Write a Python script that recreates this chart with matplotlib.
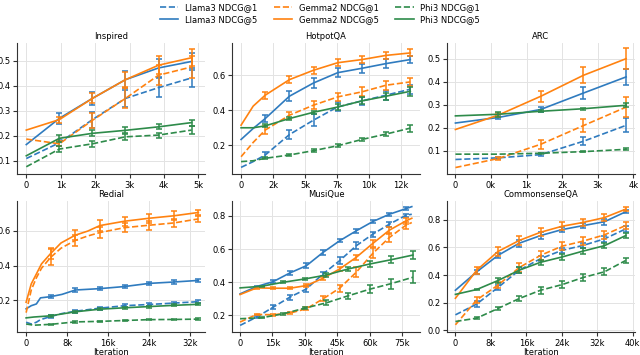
import matplotlib
matplotlib.use("Agg")
import matplotlib.pyplot as plt
import numpy as np

# ---------------- data ----------------
titles = ["Inspired", "HotpotQA", "ARC", "Redial", "MusiQue", "CommonsenseQA"]
series_names = ["Llama3 NDCG@1", "Llama3 NDCG@5", "Gemma2 NDCG@1",
                "Gemma2 NDCG@5", "Phi3 NDCG@1", "Phi3 NDCG@5"]

# Inspired
insp_x = [0, 960, 1920, 2880, 3840, 4800]
insp_l1 = [0.109, 0.172, 0.265, 0.350, 0.393, 0.432]
insp_l1_err = [0, 0.012, 0.032, 0.035, 0.037, 0.038]
insp_l5 = [0.165, 0.270, 0.350, 0.425, 0.472, 0.498]
insp_l5_err = [0, 0.022, 0.025, 0.035, 0.037, 0.035]
insp_g1 = [0.187, 0.168, 0.262, 0.350, 0.443, 0.476]
insp_g1_err = [0, 0.010, 0.030, 0.040, 0.040, 0.045]
insp_g5 = [0.223, 0.265, 0.350, 0.425, 0.483, 0.513]
insp_g5_err = [0, 0.012, 0.020, 0.030, 0.035, 0.035]
insp_p1 = [0.076, 0.147, 0.168, 0.196, 0.203, 0.223]
insp_p1_err = [0, 0.012, 0.012, 0.012, 0.010, 0.015]
insp_p5 = [0.120, 0.190, 0.210, 0.222, 0.236, 0.253]
insp_p5_err = [0, 0.015, 0.012, 0.012, 0.010, 0.012]

# HotpotQA
hot_x = [0, 945, 1890, 3780, 5670, 7560, 9450, 11340, 13230]
hot_l1 = [0.072, 0.105, 0.143, 0.260, 0.343, 0.419, 0.453, 0.486, 0.520]
hot_l1_err = [0, 0, 0.015, 0.025, 0.035, 0.025, 0.025, 0.025, 0.025]
hot_l5 = [0.232, 0.295, 0.352, 0.480, 0.556, 0.615, 0.640, 0.667, 0.690]
hot_l5_err = [0, 0, 0.020, 0.030, 0.030, 0.025, 0.025, 0.025, 0.020]
hot_g1 = [0.133, 0.215, 0.286, 0.371, 0.429, 0.476, 0.505, 0.543, 0.562]
hot_g1_err = [0, 0, 0.025, 0.020, 0.025, 0.025, 0.025, 0.025, 0.025]
hot_g5 = [0.314, 0.423, 0.486, 0.575, 0.629, 0.672, 0.690, 0.714, 0.728]
hot_g5_err = [0, 0, 0.020, 0.020, 0.020, 0.020, 0.020, 0.020, 0.020]
hot_p1 = [0.105, 0.110, 0.124, 0.143, 0.168, 0.196, 0.232, 0.263, 0.297]
hot_p1_err = [0, 0, 0.005, 0.005, 0.007, 0.008, 0.010, 0.012, 0.020]
hot_p5 = [0.299, 0.299, 0.310, 0.352, 0.388, 0.418, 0.453, 0.480, 0.508]
hot_p5_err = [0, 0, 0.008, 0.008, 0.010, 0.015, 0.020, 0.020, 0.025]

# ARC
arc_x = [0, 960, 1920, 2880, 3840]
arc_l1 = [0.063, 0.070, 0.084, 0.142, 0.211]
arc_l1_err = [0, 0.005, 0.005, 0.018, 0.030]
arc_l5 = [0.221, 0.245, 0.280, 0.351, 0.421]
arc_l5_err = [0, 0.005, 0.010, 0.025, 0.035]
arc_g1 = [0.028, 0.067, 0.129, 0.210, 0.290]
arc_g1_err = [0, 0.008, 0.020, 0.030, 0.045]
arc_g5 = [0.193, 0.255, 0.337, 0.428, 0.500]
arc_g5_err = [0, 0.010, 0.025, 0.035, 0.045]
arc_p1 = [0.086, 0.086, 0.090, 0.097, 0.107]
arc_p1_err = [0, 0, 0.003, 0.003, 0.004]
arc_p5 = [0.252, 0.259, 0.272, 0.283, 0.298]
arc_p5_err = [0, 0.010, 0.005, 0.005, 0.008]

# Redial
red_xg = [0, 1000, 2000, 3000, 4800, 6800, 9600, 12000, 14400, 19200, 24000, 28800, 33600]
red_g1 = [0.130, 0.260, 0.330, 0.385, 0.448, 0.500, 0.545, 0.570, 0.590, 0.618, 0.632, 0.645, 0.668]
red_g1_err = [0, 0, 0, 0, 0.045, 0, 0.030, 0, 0.030, 0.025, 0.025, 0.025, 0.015]
red_g5 = [0.190, 0.295, 0.352, 0.410, 0.470, 0.530, 0.575, 0.598, 0.630, 0.655, 0.672, 0.686, 0.705]
red_g5_err = [0, 0, 0, 0, 0.030, 0, 0.030, 0, 0.030, 0.025, 0.025, 0.025, 0.015]
red_xl = [0, 1000, 2000, 2800, 4800, 7000, 9600, 14400, 19200, 24000, 28800, 33600]
red_l1 = [0.075, 0.065, 0.075, 0.090, 0.108, 0.125, 0.138, 0.156, 0.170, 0.177, 0.185, 0.193]
red_l1_err = [0, 0, 0, 0, 0.008, 0, 0.008, 0.008, 0.008, 0.008, 0.008, 0.008]
red_l5 = [0.152, 0.170, 0.180, 0.215, 0.222, 0.235, 0.260, 0.268, 0.280, 0.298, 0.306, 0.315]
red_l5_err = [0, 0, 0, 0, 0.008, 0, 0.012, 0.010, 0.010, 0.010, 0.010, 0.010]
red_xp = [0, 1500, 4800, 9600, 14400, 19200, 24000, 28800, 33600]
red_p1 = [0.065, 0.058, 0.063, 0.077, 0.080, 0.085, 0.090, 0.091, 0.093]
red_p1_err = [0, 0, 0.004, 0.004, 0.004, 0.004, 0.004, 0.004, 0.004]
red_p5 = [0.100, 0.105, 0.112, 0.135, 0.150, 0.158, 0.165, 0.172, 0.178]
red_p5_err = [0, 0, 0.006, 0.006, 0.006, 0.006, 0.006, 0.006, 0.006]

# MusiQue
mus_x = [0, 7680, 15360, 23040, 30720, 38400, 46080, 53760, 61440, 69120, 76800, 79500]
mus_l1 = [0.140, 0.190, 0.250, 0.310, 0.360, 0.450, 0.530, 0.620, 0.690, 0.750, 0.804, 0.810]
mus_l1_err = [0, 0.005, 0.010, 0.015, 0.020, 0.010, 0.020, 0.020, 0.015, 0.015, 0.010, 0]
mus_l5 = [0.330, 0.374, 0.404, 0.456, 0.500, 0.580, 0.650, 0.710, 0.766, 0.810, 0.844, 0.856]
mus_l5_err = [0, 0.005, 0.008, 0.012, 0.015, 0.015, 0.010, 0.010, 0.010, 0.008, 0.008, 0]
mus_g1 = [0.160, 0.206, 0.204, 0.214, 0.240, 0.300, 0.364, 0.460, 0.574, 0.670, 0.744, 0.760]
mus_g1_err = [0, 0.005, 0.005, 0.005, 0.010, 0.015, 0.020, 0.030, 0.030, 0.030, 0.020, 0]
mus_g5 = [0.326, 0.366, 0.364, 0.364, 0.380, 0.424, 0.480, 0.550, 0.634, 0.714, 0.770, 0.786]
mus_g5_err = [0, 0.005, 0.005, 0.005, 0.010, 0.010, 0.012, 0.015, 0.020, 0.020, 0.020, 0]
mus_xp = [0, 10000, 20000, 30000, 40000, 50000, 60000, 70000, 80000]
mus_p1 = [0.180, 0.186, 0.210, 0.244, 0.276, 0.318, 0.358, 0.392, 0.430]
mus_p1_err = [0, 0.004, 0.006, 0.008, 0.015, 0.020, 0.025, 0.030, 0.035]
mus_p5 = [0.366, 0.376, 0.400, 0.420, 0.444, 0.480, 0.510, 0.536, 0.564]
mus_p5_err = [0, 0.004, 0.005, 0.006, 0.010, 0.015, 0.018, 0.020, 0.025]

# CommonsenseQA
csq_x = [0, 4800, 9600, 14400, 19200, 24000, 28800, 33600, 38400]
csq_l1 = [0.112, 0.190, 0.310, 0.435, 0.518, 0.578, 0.614, 0.661, 0.733]
csq_l1_err = [0, 0.020, 0.020, 0.020, 0.020, 0.020, 0.020, 0.020, 0.020]
csq_l5 = [0.290, 0.423, 0.542, 0.630, 0.685, 0.728, 0.757, 0.785, 0.857]
csq_l5_err = [0, 0.015, 0.020, 0.025, 0.025, 0.020, 0.020, 0.020, 0.010]
csq_g1 = [0.040, 0.220, 0.327, 0.454, 0.542, 0.608, 0.645, 0.690, 0.758]
csq_g1_err = [0, 0.020, 0.020, 0.030, 0.030, 0.030, 0.030, 0.030, 0.025]
csq_g5 = [0.232, 0.435, 0.570, 0.650, 0.709, 0.752, 0.780, 0.815, 0.876]
csq_g5_err = [0, 0.025, 0.030, 0.030, 0.030, 0.030, 0.025, 0.025, 0.015]
csq_p1 = [0.064, 0.088, 0.158, 0.230, 0.290, 0.330, 0.382, 0.423, 0.505]
csq_p1_err = [0, 0.005, 0.010, 0.015, 0.025, 0.025, 0.025, 0.025, 0.020]
csq_p5 = [0.260, 0.295, 0.360, 0.435, 0.492, 0.530, 0.573, 0.612, 0.685]
csq_p5_err = [0, 0.005, 0.015, 0.020, 0.020, 0.020, 0.020, 0.020, 0.020]

# ticks
insp_xticks = [0, 1000, 2000, 3000, 4000, 5000]
insp_xticklabels = ["0", "1k", "2k", "3k", "4k", "5k"]
hot_xticks = [0, 2500, 5000, 7500, 10000, 12500]
hot_xticklabels = ["0", "2k", "5k", "7k", "10k", "12k"]
arc_xticks = [0, 800, 1600, 2400, 3200, 4000]
arc_xticklabels = ["0", "0k", "1k", "2k", "3k", "4k"]
red_xticks = [0, 8000, 16000, 24000, 32000]
red_xticklabels = ["0", "8k", "16k", "24k", "32k"]
mus_xticks = [0, 15000, 30000, 45000, 60000, 75000]
mus_xticklabels = ["0", "15k", "30k", "45k", "60k", "75k"]
csq_xticks = [0, 8000, 16000, 24000, 32000, 40000]
csq_xticklabels = ["0", "8k", "16k", "24k", "32k", "40k"]

insp_yticks = [0.1, 0.2, 0.3, 0.4, 0.5]
hot_yticks = [0.2, 0.4, 0.6]
arc_yticks = [0.1, 0.2, 0.3, 0.4, 0.5]
red_yticks = [0.2, 0.4, 0.6]
mus_yticks = [0.2, 0.4, 0.6, 0.8]
csq_yticks = [0.0, 0.2, 0.4, 0.6, 0.8]

# ---------------- styling ----------------
BLUE = "#2f7bbf"
ORANGE = "#ff8210"
GREEN = "#2e8b4a"
colors = [BLUE, BLUE, ORANGE, ORANGE, GREEN, GREEN]
styles = ["--", "-", "--", "-", "--", "-"]

panels = [
    dict(title=titles[0],
         series=[(insp_x, insp_l1, insp_l1_err), (insp_x, insp_l5, insp_l5_err),
                 (insp_x, insp_g1, insp_g1_err), (insp_x, insp_g5, insp_g5_err),
                 (insp_x, insp_p1, insp_p1_err), (insp_x, insp_p5, insp_p5_err)],
         xticks=insp_xticks, xticklabels=insp_xticklabels, yticks=insp_yticks,
         xlim=(-270, 5190), ylim=(0.047, 0.572)),
    dict(title=titles[1],
         series=[(hot_x, hot_l1, hot_l1_err), (hot_x, hot_l5, hot_l5_err),
                 (hot_x, hot_g1, hot_g1_err), (hot_x, hot_g5, hot_g5_err),
                 (hot_x, hot_p1, hot_p1_err), (hot_x, hot_p5, hot_p5_err)],
         xticks=hot_xticks, xticklabels=hot_xticklabels, yticks=hot_yticks,
         xlim=(-710, 13990), ylim=(0.034, 0.785)),
    dict(title=titles[2],
         series=[(arc_x, arc_l1, arc_l1_err), (arc_x, arc_l5, arc_l5_err),
                 (arc_x, arc_g1, arc_g1_err), (arc_x, arc_g5, arc_g5_err),
                 (arc_x, arc_p1, arc_p1_err), (arc_x, arc_p5, arc_p5_err)],
         xticks=arc_xticks, xticklabels=arc_xticklabels, yticks=arc_yticks,
         xlim=(-190, 4040), ylim=(0.0, 0.568)),
    dict(title=titles[3],
         series=[(red_xl, red_l1, red_l1_err), (red_xl, red_l5, red_l5_err),
                 (red_xg, red_g1, red_g1_err), (red_xg, red_g5, red_g5_err),
                 (red_xp, red_p1, red_p1_err), (red_xp, red_p5, red_p5_err)],
         xticks=red_xticks, xticklabels=red_xticklabels, yticks=red_yticks,
         xlim=(-1780, 34900), ylim=(0.019, 0.771)),
    dict(title=titles[4],
         series=[(mus_x, mus_l1, mus_l1_err), (mus_x, mus_l5, mus_l5_err),
                 (mus_x, mus_g1, mus_g1_err), (mus_x, mus_g5, mus_g5_err),
                 (mus_xp, mus_p1, mus_p1_err), (mus_xp, mus_p5, mus_p5_err)],
         xticks=mus_xticks, xticklabels=mus_xticklabels, yticks=mus_yticks,
         xlim=(-3750, 83300), ylim=(0.10, 0.89)),
    dict(title=titles[5],
         series=[(csq_x, csq_l1, csq_l1_err), (csq_x, csq_l5, csq_l5_err),
                 (csq_x, csq_g1, csq_g1_err), (csq_x, csq_g5, csq_g5_err),
                 (csq_x, csq_p1, csq_p1_err), (csq_x, csq_p5, csq_p5_err)],
         xticks=csq_xticks, xticklabels=csq_xticklabels, yticks=csq_yticks,
         xlim=(-1900, 40500), ylim=(-0.012, 0.935)),
]

plt.rcParams["font.family"] = ["DejaVu Sans"]
fig = plt.figure(figsize=(6.4, 3.55), dpi=100)
W, H = 640.0, 355.0
lefts = [17, 232, 447]
aw = 188
tops = [43, 201]
ah = 131

handles = []
for i, p in enumerate(panels):
    r, c = divmod(i, 3)
    ax = fig.add_axes([lefts[c] / W, 1 - (tops[r] + ah) / H, aw / W, ah / H])
    ax.set_axisbelow(True)
    ax.grid(True, color="#e3e3e3", linewidth=0.7)
    for s in ["top", "right"]:
        ax.spines[s].set_visible(False)
    for s in ["left", "bottom"]:
        ax.spines[s].set_color("#333333")
        ax.spines[s].set_linewidth(0.8)
    for k, (xs, ys, es) in enumerate(p["series"]):
        xs = np.asarray(xs, float)
        ys = np.asarray(ys, float)
        es = np.asarray(es, float)
        ln, = ax.plot(xs, ys, styles[k], color=colors[k], linewidth=1.2,
                      label=series_names[k])
        m = es > 0
        ax.errorbar(xs[m], ys[m], yerr=es[m], fmt="none", ecolor=colors[k],
                    elinewidth=1.1, capsize=2.2, capthick=1.1)
        if i == 0:
            handles.append(ln)
    ax.set_xlim(*p["xlim"])
    ax.set_ylim(*p["ylim"])
    ax.set_xticks(p["xticks"])
    ax.set_xticklabels(p["xticklabels"])
    ax.set_yticks(p["yticks"])
    ax.set_yticklabels([f"{v:.1f}" for v in p["yticks"]])
    ax.tick_params(labelsize=6, length=3, width=0.8, pad=1.8, color="#333333")
    ax.set_title(p["title"], fontsize=6, pad=3)
    if r == 1:
        ax.set_xlabel("Iteration", fontsize=6, labelpad=0)

fig.legend(handles, series_names, loc="upper center", bbox_to_anchor=(0.5, 1.005),
           ncol=3, frameon=False, fontsize=6, handlelength=2.2,
           labelspacing=0.35, borderpad=0.1, columnspacing=2.0)

fig.savefig("out.png", dpi=100)
